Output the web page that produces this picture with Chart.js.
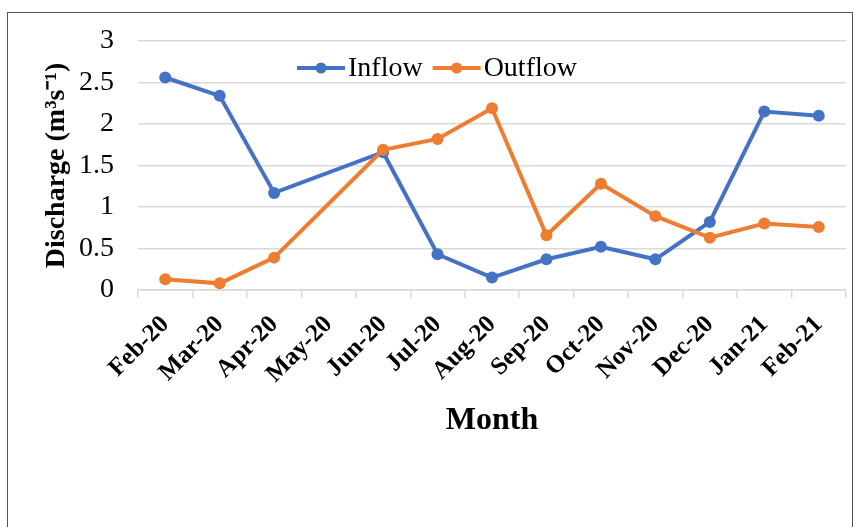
<!DOCTYPE html>
<html>
<head>
<meta charset="utf-8">
<script src="https://cdn.jsdelivr.net/npm/chart.js@4"></script>
<style>
  body { margin: 0; background: #fff; }
  #wrap { position: relative; width: 862px; height: 527px; overflow: hidden; }
  #frame { position: absolute; left: 7px; top: 12px; width: 846px; height: 540px; border: 1px solid #555; box-sizing: border-box; }
  canvas { position: absolute; left: 0; top: 0; }
</style>
</head>
<body>
<div id="wrap">
  <div id="frame"></div>
  <canvas id="dischargeChart" width="862" height="527"></canvas>
</div>
<script>
// monthly discharge
const months = ["Feb-20", "Mar-20", "Apr-20", "May-20", "Jun-20", "Jul-20", "Aug-20",
  "Sep-20", "Oct-20", "Nov-20", "Dec-20", "Jan-21", "Feb-21"];
const inflow = [2.56, 2.34, 1.17, null, 1.66, 0.43, 0.15, 0.37, 0.52, 0.37, 0.82, 2.15, 2.10];
const outflow = [0.13, 0.08, 0.39, null, 1.69, 1.82, 2.19, 0.66, 1.28, 0.89, 0.63, 0.80, 0.76];
const yTicks = [0, 0.5, 1, 1.5, 2, 2.5, 3];

const blue = "#4472C4";
const orange = "#ED7D31";
const serif = "'Liberation Serif', 'Times New Roman', serif";

// excel style legend (line + marker) sitting inside the plot
const insideLegend = {
  id: "insideLegend",
  afterDraw(chart) {
    const ctx = chart.ctx;
    const area = chart.chartArea;
    let x = area.left + 159;
    const y = area.top + 27;
    ctx.save();
    ctx.font = "28px " + serif;
    ctx.textBaseline = "middle";
    chart.data.datasets.forEach((ds) => {
      ctx.strokeStyle = ds.borderColor;
      ctx.lineWidth = 4;
      ctx.beginPath();
      ctx.moveTo(x, y);
      ctx.lineTo(x + 48, y);
      ctx.stroke();
      ctx.fillStyle = ds.borderColor;
      ctx.beginPath();
      ctx.arc(x + 24, y, 5.5, 0, Math.PI * 2);
      ctx.fill();
      ctx.fillStyle = "#000";
      ctx.fillText(ds.label, x + 51, y + 1);
      x += 51 + ctx.measureText(ds.label).width + 10;
    });
    ctx.restore();
  },
};

const ctx = document.getElementById("dischargeChart");
new Chart(ctx, {
  type: "line",
  data: {
    labels: months,
    datasets: [
      {
        label: "Inflow",
        data: inflow,
        borderColor: blue,
        backgroundColor: blue,
        borderWidth: 4,
        pointRadius: 6,
        pointBorderWidth: 0,
        spanGaps: true,
        tension: 0,
        order: 1,
      },
      {
        label: "Outflow",
        data: outflow,
        borderColor: orange,
        backgroundColor: orange,
        borderWidth: 4,
        pointRadius: 6,
        pointBorderWidth: 0,
        spanGaps: true,
        tension: 0,
        order: 0,
      },
    ],
  },
  options: {
    responsive: false,
    animation: false,
    layout: { padding: { left: 40, right: 16, top: 41, bottom: 87 } },
    plugins: {
      legend: { display: false },
      tooltip: { enabled: false },
    },
    scales: {
      x: {
        offset: true,
        grid: { offset: true, drawOnChartArea: false, drawTicks: true, tickLength: 8, color: "#d9d9d9", lineWidth: 1.5 },
        border: { color: "#d9d9d9", width: 1.5 },
        ticks: {
          color: "#000",
          font: { family: serif, size: 25, weight: "bold" },
          minRotation: 45,
          maxRotation: 45,
          padding: 12,
          autoSkip: false,
        },
        title: {
          display: true,
          text: "Month",
          color: "#000",
          font: { family: serif, size: 32, weight: "bold" },
          padding: 0,
        },
        afterFit(scale) {
          scale.height = 150;
        },
      },
      y: {
        min: 0,
        max: 3,
        afterBuildTicks(scale) {
          scale.ticks = yTicks.map((v) => ({ value: v }));
        },
        grid: { color: "#d9d9d9", lineWidth: 1.5, drawTicks: false },
        border: { display: false },
        ticks: {
          color: "#000",
          font: { family: serif, size: 28 },
          padding: 24,
          callback: (v) => String(v),
        },
        title: {
          display: true,
          text: "Discharge (m³s⁻¹)",
          color: "#000",
          font: { family: serif, size: 28, weight: "bold" },
          padding: 0,
        },
        afterFit(scale) {
          scale.width = 98;
        },
      },
    },
  },
  plugins: [insideLegend],
});
</script>
</body>
</html>
